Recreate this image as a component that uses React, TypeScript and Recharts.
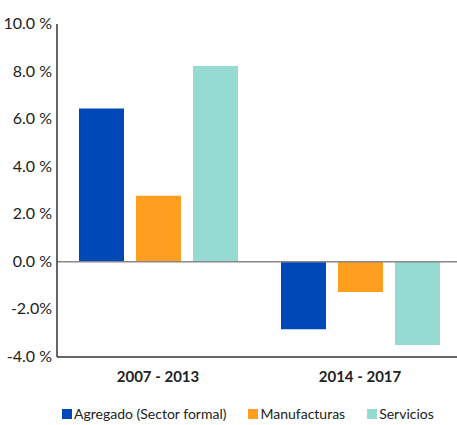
import { BarChart, Bar, XAxis, YAxis, ReferenceLine, Legend } from 'recharts';

const periods = ['2007 - 2013', '2014 - 2017'];
const agregado = [6.45, -2.83];
const manufacturas = [2.78, -1.27];
const servicios = [8.23, -3.5];
const yTicks = [-4, -2, 0, 2, 4, 6, 8, 10];
const yTickLabels = ['-4.0 %', '-2.0%', '0.0 %', '2.0 %', '4.0 %', '6.0 %', '8.0 %', '10.0 %'];

const seriesNames = ['Agregado (Sector formal)', 'Manufacturas', 'Servicios'];
const colors = ['#0048B8', '#FF9E1F', '#96DBD1'];

const data = periods.map((p, i) => ({
  name: p,
  agregado: agregado[i],
  manufacturas: manufacturas[i],
  servicios: servicios[i],
}));

const font = 'Lato, "Open Sans", sans-serif';

const YTick = (props: any) => {
  const { x, y, payload } = props;
  const idx = yTicks.indexOf(payload.value);
  return (
    <text x={x + 3} y={y} dy={5} textAnchor="end" fill="#222" fontSize={16} fontFamily={font}>
      {yTickLabels[idx]}
    </text>
  );
};

const XTick = (props: any) => {
  const { x, y, payload } = props;
  return (
    <text x={x} y={y} dy={17} textAnchor="middle" fill="#222" fontSize={15} fontWeight={700} fontFamily={font}>
      {payload.value}
    </text>
  );
};

const LegendContent = () => (
  <div style={{ display: 'flex', fontFamily: font, fontSize: 14, color: '#222', paddingLeft: 62, paddingTop: 8, whiteSpace: 'nowrap' }}>
    {seriesNames.map((n, i) => (
      <div key={n} style={{ display: 'flex', alignItems: 'center', marginRight: 22, flexShrink: 0 }}>
        <span style={{ display: 'inline-block', width: 10, height: 10, background: colors[i], marginRight: 2 }} />
        <span>{n}</span>
      </div>
    ))}
  </div>
);

export default function App() {
  return (
    <div style={{ position: 'absolute', left: 0, top: 0, width: 457, height: 425, overflow: 'hidden', background: '#fff' }}>
      <BarChart
        width={470}
        height={425}
        data={data}
        margin={{ top: 24, right: 9, left: 0, bottom: 0 }}
        barGap={12}
        barCategoryGap={22}
      >
        <XAxis
          dataKey="name"
          axisLine={{ stroke: '#333', strokeWidth: 1.5 }}
          tickLine={false}
          tick={<XTick />}
          height={40}
        />
        <YAxis
          domain={[-4, 10]}
          ticks={yTicks}
          interval={0}
          width={57}
          axisLine={{ stroke: '#333', strokeWidth: 1.5 }}
          tickLine={false}
          tick={<YTick />}
        />
        <ReferenceLine y={0} stroke="#888" strokeWidth={1.5} />
        <Bar dataKey="agregado" fill={colors[0]} isAnimationActive={false} />
        <Bar dataKey="manufacturas" fill={colors[1]} isAnimationActive={false} />
        <Bar dataKey="servicios" fill={colors[2]} isAnimationActive={false} />
        <Legend verticalAlign="bottom" height={28} content={<LegendContent />} />
      </BarChart>
    </div>
  );
}
